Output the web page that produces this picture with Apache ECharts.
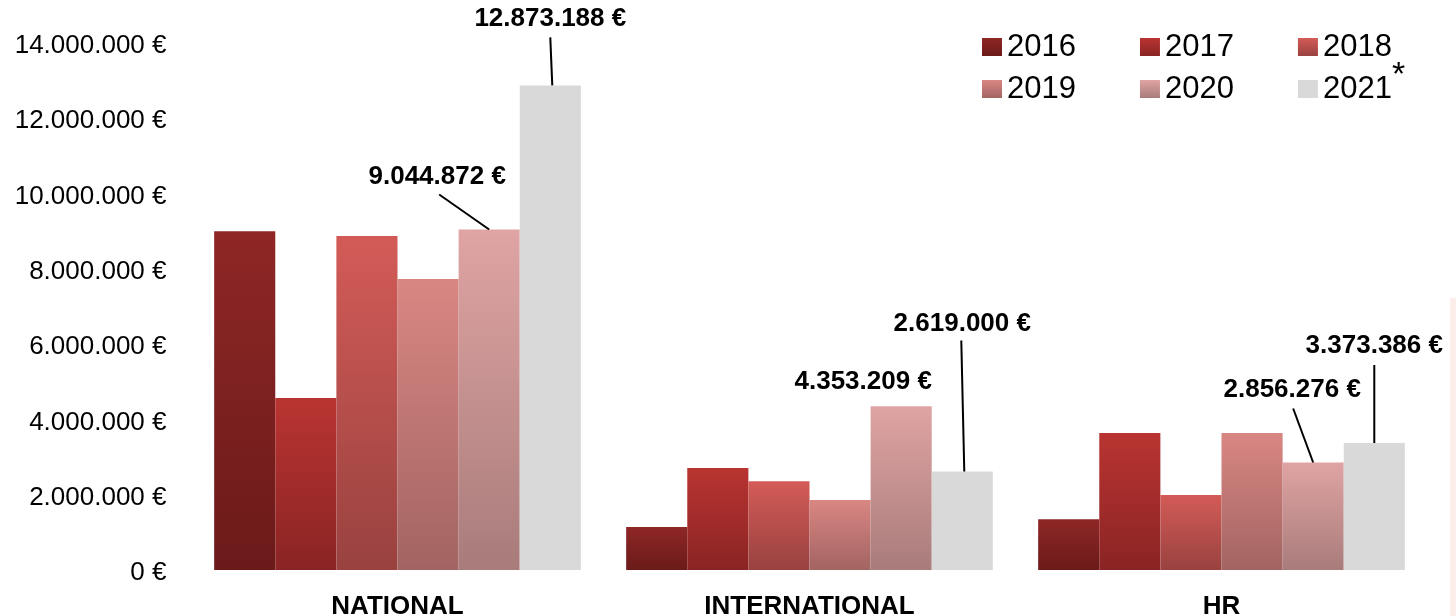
<!DOCTYPE html>
<html>
<head>
<meta charset="utf-8">
<script src="https://cdn.jsdelivr.net/npm/echarts@6/dist/echarts.min.js"></script>
<style>
html,body{margin:0;padding:0;background:#fff;}
#main{width:1456px;height:616px;}
</style>
</head>
<body>
<div id="main"></div>
<script>
// ---- data ----
var categories = ['NATIONAL', 'INTERNATIONAL', 'HR'];
var years = ['2016', '2017', '2018', '2019', '2020', '2021'];
var v2016 = [9000000, 1140000, 1350000];
var v2017 = [4570000, 2710000, 3640000];
var v2018 = [8870000, 2360000, 1990000];
var v2019 = [7730000, 1860000, 3640000];
var v2020 = [9044872, 4353209, 2856276];
var v2021 = [12873188, 2619000, 3373386];
var yTicks = [0, 2000000, 4000000, 6000000, 8000000, 10000000, 12000000, 14000000];

// ---- styling / layout ----
var FONT = '"Liberation Sans", Arial, Helvetica, sans-serif';
var seriesValues = [v2016, v2017, v2018, v2019, v2020, v2021];
var gradients = [
  ['#8E2726', '#6B1A1A'],
  ['#B93431', '#8A2424'],
  ['#D35B57', '#994240'],
  ['#D98783', '#A26462'],
  ['#DFA4A3', '#A87C7B'],
  ['#D9D9D9', '#D9D9D9']
];
var CAT_GAP = 0.11;
// annotated bars: series index, category index, label offset, leader line
var annotations = [
  {s: 5, c: 0, dx: 0,   dy: -67, line: [0, -48, 2, 0]},
  {s: 4, c: 0, dx: -52, dy: -53, line: [-50, -35, 0, 0]},
  {s: 4, c: 1, dx: -38, dy: -24, line: null},
  {s: 5, c: 1, dx: 0,   dy: -148, line: [-1, -131, 2, 0]},
  {s: 4, c: 2, dx: -21, dy: -73, line: [-20, -54, 0, 0]},
  {s: 5, c: 2, dx: 0,   dy: -97, line: [0, -78, 0, 0]}
];

function fmt(v) {
  return String(Math.round(v)).replace(/\B(?=(\d{3})+(?!\d))/g, '.') + ' €';
}
function grad(pair) {
  return {type: 'linear', x: 0, y: 0, x2: 0, y2: 1,
    colorStops: [{offset: 0, color: pair[0]}, {offset: 1, color: pair[1]}]};
}

var series = years.map(function (y, i) {
  return {
    name: y,
    type: 'bar',
    data: seriesValues[i],
    barGap: '0%',
    barCategoryGap: (CAT_GAP * 100) + '%',
    itemStyle: {color: grad(gradients[i])},
    emphasis: {disabled: true},
    z: 2
  };
});

series.push({
  type: 'custom',
  name: 'annotations',
  silent: true,
  clip: false,
  z: 10,
  data: annotations.map(function (a, i) { return [a.c, seriesValues[a.s][a.c], i]; }),
  renderItem: function (params, api) {
    var a = annotations[api.value(2)];
    var p = api.coord([api.value(0), api.value(1)]);
    var band = api.size([1, 0])[0];
    var barW = band * (1 - CAT_GAP) / years.length;
    var bx = p[0] + (a.s - (years.length - 1) / 2) * barW;
    var by = p[1];
    var children = [{
      type: 'text',
      x: bx + a.dx, y: by + a.dy,
      style: {
        text: fmt(api.value(1)),
        align: 'center', verticalAlign: 'middle',
        font: 'bold 26px ' + FONT,
        fill: '#000'
      }
    }];
    if (a.line) {
      children.push({
        type: 'line',
        shape: {x1: bx + a.line[0], y1: by + a.line[1], x2: bx + a.line[2], y2: by + a.line[3]},
        style: {stroke: '#000', lineWidth: 2}
      });
    }
    return {type: 'group', children: children};
  }
});

var legendCommon = {
  orient: 'horizontal',
  icon: 'rect',
  itemWidth: 20,
  itemHeight: 18,
  itemGap: 64,
  padding: 0,
  left: 982,
  selectedMode: false,
  textStyle: {
    fontSize: 31, fontFamily: FONT, color: '#000', lineHeight: 34,
    rich: {
      s: {fontSize: 34, fontFamily: FONT, color: '#000', lineHeight: 34,
          verticalAlign: 'middle', padding: [0, 0, 26, 0]}
    }
  }
};

var option = {
  animation: false,
  backgroundColor: '#fff',
  grid: {left: 191.5, right: 28.5, top: 43, bottom: 46, containLabel: false, outerBoundsMode: 'none'},
  legend: [
    Object.assign({}, legendCommon, {data: years.slice(0, 3), top: 30}),
    Object.assign({}, legendCommon, {
      data: years.slice(3), top: 59,
      formatter: function (n) { return n === '2021' ? n + '{s|*}' : n; }
    })
  ],
  graphic: [{
    type: 'rect', right: 0, top: 298,
    shape: {width: 6, height: 318},
    style: {fill: '#FBEDEA'}, silent: true
  }],
  xAxis: {
    type: 'category',
    data: categories,
    axisLine: {show: false},
    axisTick: {show: false},
    axisLabel: {
      margin: 24, fontSize: 26, fontWeight: 'bold', fontFamily: FONT, color: '#000'
    }
  },
  yAxis: {
    type: 'value',
    min: yTicks[0],
    max: yTicks[yTicks.length - 1],
    interval: yTicks[1] - yTicks[0],
    splitLine: {show: false},
    axisLine: {show: false},
    axisTick: {show: false},
    axisLabel: {
      margin: 25, fontSize: 26, fontFamily: FONT, color: '#000',
      verticalAlign: 'top', lineHeight: 6,
      formatter: fmt
    }
  },
  series: series
};

var chart = echarts.init(document.getElementById('main'), null, {renderer: 'canvas'});
chart.setOption(option);
</script>
</body>
</html>
